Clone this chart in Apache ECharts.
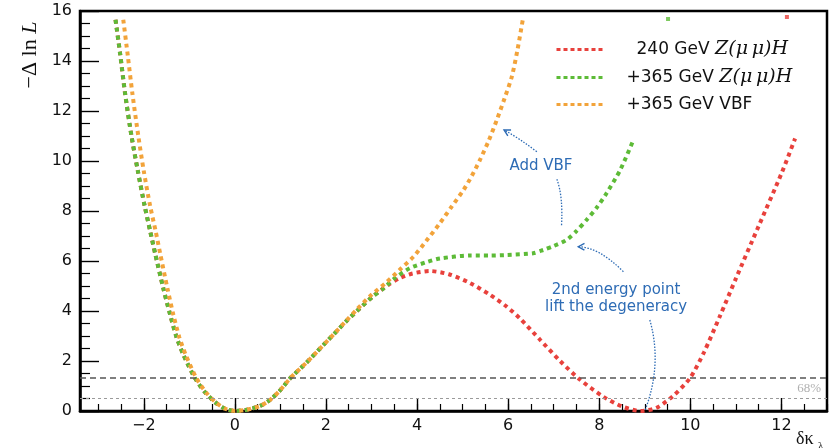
<!DOCTYPE html>
<html>
<head>
<meta charset="utf-8">
<script src="https://cdn.jsdelivr.net/npm/echarts@6/dist/echarts.min.js"></script>
<style>
  html, body { margin: 0; padding: 0; background: #fff; }
  #chart { width: 833px; height: 448px; }
</style>
</head>
<body>
<div id="chart"></div>
<script>
// Likelihood scan of the Higgs self-coupling modifier δκλ, three configurations.

// 240 GeV Z(μμ)H only: two minima (0 and ~9)
const kappa240 = [-2.62, -2.52, -2.41, -2.27, -2.13, -1.98, -1.86, -1.75, -1.57, -1.42, -1.28, -1.13,
  -0.88, -0.66, -0.44, -0.22, 0, 0.26, 0.55, 0.77, 0.99, 1.21, 1.58, 1.87, 2.16, 2.45, 2.75, 3.04,
  3.37, 3.6, 3.9, 4.28, 4.7, 5.16, 5.6, 5.97, 6.26, 6.7, 7.14, 7.58, 8.09, 8.5, 8.9, 9.25, 9.62,
  9.99, 10.3, 10.65, 11.0, 11.5, 12.0, 12.3];
const nll240 = [15.65, 14.3, 12.7, 11.0, 9.6, 8.2, 7.2, 6.3, 4.9, 3.85, 2.95, 2.25,
  1.33, 0.76, 0.36, 0.09, 0, 0.05, 0.2, 0.44, 0.82, 1.3, 1.95, 2.5, 3.05, 3.6, 4.12, 4.6,
  5.05, 5.3, 5.5, 5.6, 5.47, 5.12, 4.65, 4.17, 3.7, 2.85, 2.0, 1.25, 0.57, 0.18, 0.0, 0.12, 0.6,
  1.31, 2.35, 3.8, 5.3, 7.4, 9.5, 10.9];

// + 365 GeV Z(μμ)H
const kappa365 = [-2.62, -2.52, -2.41, -2.27, -2.13, -1.98, -1.86, -1.75, -1.57, -1.42, -1.28, -1.13,
  -0.88, -0.66, -0.44, -0.22, 0, 0.26, 0.55, 0.77, 0.99, 1.21, 1.58, 1.87, 2.16, 2.45, 2.75, 3.04,
  3.25, 3.5, 3.84, 4.2, 4.5, 5.16, 5.6, 5.97, 6.55, 6.77, 7.0, 7.28, 7.5, 7.72, 7.95, 8.16, 8.46, 8.75];
const nll365 = [15.65, 14.3, 12.7, 11.0, 9.6, 8.2, 7.2, 6.3, 4.9, 3.85, 2.95, 2.25,
  1.33, 0.76, 0.36, 0.09, 0, 0.05, 0.2, 0.44, 0.82, 1.3, 1.95, 2.5, 3.05, 3.6, 4.12, 4.6,
  4.88, 5.3, 5.71, 5.95, 6.1, 6.22, 6.22, 6.24, 6.31, 6.44, 6.6, 6.84, 7.2, 7.64, 8.15, 8.71, 9.64, 10.84];

// + 365 GeV VBF
const kappaVBF = [-2.45, -2.35, -2.25, -2.12, -2.0, -1.86, -1.74, -1.64, -1.48, -1.35, -1.22, -1.08,
  -0.85, -0.64, -0.43, -0.21, 0, 0.26, 0.55, 0.77, 0.99, 1.21, 1.58, 1.87, 2.16, 2.45, 2.67, 3.0,
  3.33, 3.62, 3.92, 4.2, 4.5, 4.75, 5.02, 5.2, 5.38, 5.57, 5.75, 5.92, 6.08, 6.2, 6.32];
const nllVBF = [15.65, 14.2, 12.7, 11.0, 9.6, 8.2, 7.2, 6.3, 4.9, 3.85, 2.95, 2.25,
  1.33, 0.76, 0.36, 0.09, 0, 0.05, 0.2, 0.44, 0.82, 1.3, 1.95, 2.5, 3.05, 3.62, 4.05, 4.65,
  5.15, 5.65, 6.17, 6.8, 7.51, 8.15, 8.84, 9.4, 10.04, 10.8, 11.64, 12.5, 13.37, 14.4, 15.64];

// stray points of the steep branches just below the upper frame
const kappaEdge240 = [12.12];
const nllEdge240 = [15.76];
const kappaEdge365 = [9.51];
const nllEdge365 = [15.68];

// confidence-level reference lines
const clLines = [1.32, 0.5];
const clLabel = '68%';

// axes
const xRange = [-3.4, 13];
const xTickLabels = [-2, 0, 2, 4, 6, 8, 10, 12];
const yRange = [0, 16];
const yInterval = 2;

const seriesNames = ['240 GeV Z(μμ)H', '+365 GeV Z(μμ)H', '+365 GeV VBF'];
const legendRich = {
  '240 GeV Z(μμ)H': '{a0|240 GeV }{m|Z(μ\u2009μ)H}',
  '+365 GeV Z(μμ)H': '{a|+365 GeV }{m|Z(μ\u2009μ)H}',
  '+365 GeV VBF': '{a|+365 GeV VBF}'
};

const RED = '#e8413c', GREEN = '#5dbb37', ORANGE = '#f2a33a', BLUE = '#2e6cb5';
const SANS = 'DejaVu Sans', SERIF = 'Liberation Serif', MATH = 'DejaVu Serif';

const xMinorTicks = [];
for (let v = -3; v <= 13.001; v += 0.5) xMinorTicks.push(+v.toFixed(1));

const pairs = (xs, ys) => xs.map((x, i) => [x, ys[i]]);
const minus = v => String(v).replace('-', '\u2212');

function curve(name, xs, ys, color, z) {
  return {
    name, type: 'line', data: pairs(xs, ys), xAxisIndex: 0, yAxisIndex: 0,
    smooth: 0.25, symbol: 'none', showSymbol: false, clip: true, z,
    lineStyle: { color, width: 4, type: [4, 4], cap: 'butt' },
    itemStyle: { color },
    emphasis: { disabled: true }
  };
}
function edge(xs, ys, color) {
  return {
    type: 'scatter', data: pairs(xs, ys), symbol: 'rect', symbolSize: 4, z: 3,
    itemStyle: { color }, silent: true
  };
}

const chart = echarts.init(document.getElementById('chart'), null, { renderer: 'canvas' });

const red = curve(seriesNames[0], kappa240, nll240, RED, 2);
red.markLine = {
  silent: true, symbol: 'none', animation: false,
  data: [
    { yAxis: clLines[0], lineStyle: { color: '#555', width: 1.6, type: [6, 4] }, label: { show: false } },
    { yAxis: clLines[1], lineStyle: { color: '#9a9a9a', width: 1, type: [3, 3] },
      label: { show: true, formatter: clLabel, position: 'insideEndTop', distance: [6, 3],
        color: '#b0b0b0', fontFamily: SERIF, fontSize: 13 } }
  ]
};

chart.setOption({
  animation: false,
  backgroundColor: '#fff',
  grid: { left: 80, right: 6, top: 11, bottom: 37, show: true, borderColor: '#000', borderWidth: 2.5, backgroundColor: '#fff' },
  legend: {
    data: seriesNames, orient: 'vertical', left: 550, top: 35,
    itemWidth: 48, itemHeight: 14, itemGap: 9, selectedMode: false,
    lineStyle: { width: 3, type: [4, 3] },
    itemStyle: { opacity: 0 },
    formatter: name => legendRich[name],
    textStyle: {
      color: '#111',
      rich: {
        a0: { fontFamily: SANS, fontSize: 17, color: '#111', lineHeight: 21, padding: [0, 0, 0, 27] },
        a: { fontFamily: SANS, fontSize: 17, color: '#111', lineHeight: 21, padding: [0, 0, 0, 17] },
        m: { fontFamily: MATH, fontStyle: 'italic', fontSize: 19, color: '#111', lineHeight: 21 }
      }
    }
  },
  xAxis: [{
    type: 'value', min: xRange[0], max: xRange[1], position: 'bottom',
    axisLine: { show: true, onZero: false, lineStyle: { color: '#000', width: 2.5 } },
    axisTick: { show: true, inside: true, length: 13, customValues: xTickLabels, lineStyle: { color: '#000', width: 1.4 } },
    axisLabel: { customValues: xTickLabels, formatter: minus, fontFamily: SANS, fontSize: 16, color: '#111', margin: 7 },
    splitLine: { show: false }
  }, {
    type: 'value', min: xRange[0], max: xRange[1], position: 'bottom',
    axisLine: { show: false, onZero: false },
    axisTick: { show: true, inside: true, length: 7, customValues: xMinorTicks, lineStyle: { color: '#000', width: 1.2 } },
    axisLabel: { show: false },
    splitLine: { show: false }
  }],
  yAxis: {
    type: 'value', min: yRange[0], max: yRange[1], interval: yInterval,
    axisLine: { show: true, onZero: false, lineStyle: { color: '#000', width: 2.5 } },
    axisTick: { show: true, inside: true, length: 19, lineStyle: { color: '#000', width: 1.4 } },
    minorTick: { show: true, splitNumber: 4, length: 10, lineStyle: { color: '#000', width: 1.2 } },
    axisLabel: { fontFamily: SANS, fontSize: 16, color: '#111', margin: 8 },
    splitLine: { show: false }, minorSplitLine: { show: false }
  },
  series: [
    red,
    curve(seriesNames[1], kappa365, nll365, GREEN, 3),
    curve(seriesNames[2], kappaVBF, nllVBF, ORANGE, 4),
    edge(kappaEdge365, nllEdge365, GREEN),
    edge(kappaEdge240, nllEdge240, RED)
  ]
});

// annotation text and dotted arrows, placed in data coordinates
const notes = [
  { text: 'Add VBF', at: [6.72, 9.8] },
  { text: '2nd energy point\nlift the degeneracy', at: [8.37, 4.5] }
];
const arrows = [
  { from: [6.63, 10.37], ctrl: [6.25, 10.9], to: [5.91, 11.24], head: true },
  { from: [7.07, 9.27], ctrl: [7.21, 8.57], to: [7.17, 7.37], head: false },
  { from: [8.53, 5.57], ctrl: [7.99, 6.56], to: [7.54, 6.57], head: true },
  { from: [9.11, 3.64], ctrl: [9.39, 1.86], to: [9.0, 0.0], head: false }
];

const px = p => chart.convertToPixel({ xAxisIndex: 0, yAxisIndex: 0 }, p);
const graphics = [];
notes.forEach(n => {
  const p = px(n.at);
  graphics.push({
    type: 'text', x: p[0], y: p[1], z: 10,
    style: { text: n.text, fill: BLUE, font: '15px "DejaVu Sans"', align: 'center', verticalAlign: 'middle', lineHeight: 17 }
  });
});
arrows.forEach(a => {
  const p0 = px(a.from), c = px(a.ctrl), p1 = px(a.to);
  graphics.push({
    type: 'bezierCurve', z: 10,
    shape: { x1: p0[0], y1: p0[1], cpx1: c[0], cpy1: c[1], x2: p1[0], y2: p1[1] },
    style: { stroke: BLUE, lineWidth: 1.3, lineDash: [1.5, 1.5], fill: null }
  });
  if (a.head) {
    const ang = Math.atan2(p1[1] - c[1], p1[0] - c[0]);
    const L = 7, spread = 0.5;
    graphics.push({
      type: 'polyline', z: 10,
      shape: { points: [
        [p1[0] - L * Math.cos(ang - spread), p1[1] - L * Math.sin(ang - spread)],
        [p1[0], p1[1]],
        [p1[0] - L * Math.cos(ang + spread), p1[1] - L * Math.sin(ang + spread)]
      ] },
      style: { stroke: BLUE, lineWidth: 1.4, fill: null }
    });
  }
});

// axis titles
graphics.push({
  type: 'text', x: 30, y: 55, rotation: Math.PI / 2, z: 10,
  style: {
    text: '{r|\u2212\u0394 ln }{i|L}', align: 'center', verticalAlign: 'middle',
    rich: {
      r: { fontFamily: SERIF, fontSize: 22, fill: '#111' },
      i: { fontFamily: SERIF, fontStyle: 'italic', fontSize: 22, fill: '#111' }
    }
  }
});
graphics.push({
  type: 'text', x: 796, y: 439, z: 10,
  style: { text: '\u03b4\u03ba', fontFamily: SERIF, fontSize: 18, fill: '#111', align: 'left', verticalAlign: 'middle' }
});
graphics.push({
  type: 'text', x: 818, y: 446, z: 10,
  style: { text: '\u03bb', fontFamily: SERIF, fontSize: 11, fill: '#111', align: 'left', verticalAlign: 'middle' }
});

chart.setOption({ graphic: graphics });
</script>
</body>
</html>
